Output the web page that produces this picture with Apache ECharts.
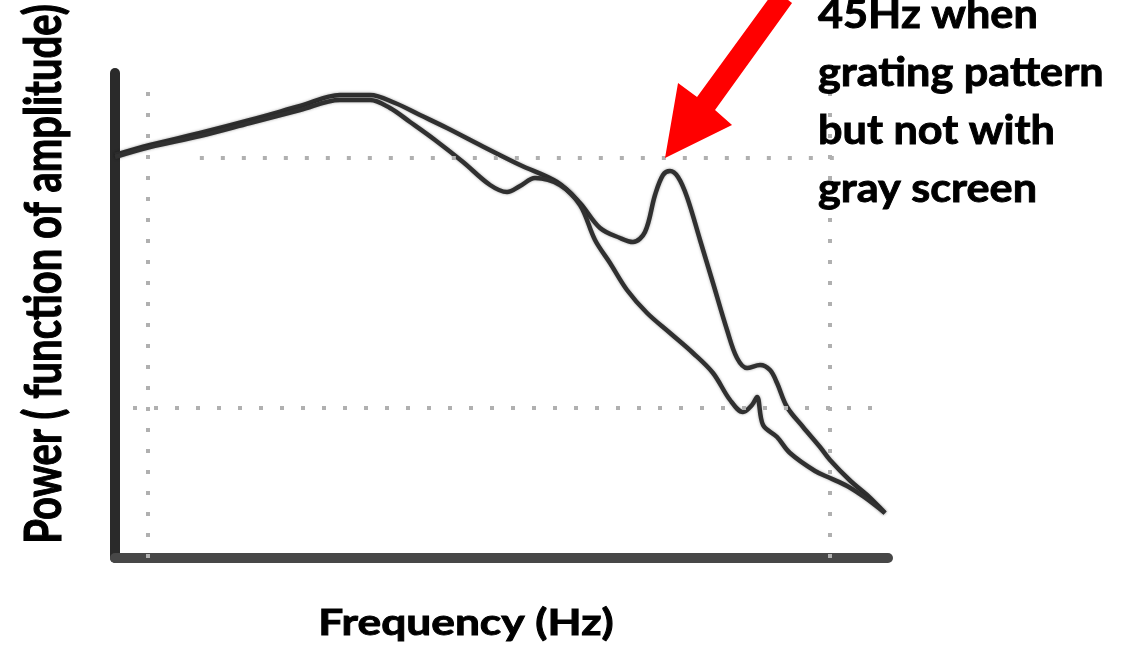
<!DOCTYPE html>
<html>
<head>
<meta charset="utf-8">
<script src="https://cdn.jsdelivr.net/npm/echarts@6/dist/echarts.min.js"></script>
<style>
html,body{margin:0;padding:0;background:#fff;}
#c{width:1140px;height:649px;}
</style>
</head>
<body>
<div id="c"></div>
<script>
// Curve with the 45 Hz peak (grating pattern)
const gratingFreq = [-4.84, 0.29, 7.62, 14.96, 22.29, 28.15, 32.55, 36.22, 39.88, 43.84, 48.68, 54.55, 59.97, 63.34, 66.28, 69.21, 71.11, 72.87, 74.34, 75.51, 76.54, 77.71, 79.03, 80.94, 82.84, 84.9, 86.36, 87.83, 89.74, 91.2, 92.23, 93.7, 96.04, 98.53, 100.0, 102.93, 105.43, 108.06];
const gratingPower = [20.12, 20.52, 21.0, 21.52, 22.08, 22.52, 22.52, 22.2, 21.72, 21.2, 20.52, 19.72, 19.04, 18.2, 17.2, 16.8, 16.64, 17.04, 18.52, 19.32, 19.48, 19.24, 18.44, 16.72, 15.0, 13.12, 12.0, 11.6, 11.72, 11.52, 11.0, 10.04, 9.24, 8.44, 7.92, 7.1, 6.52, 5.8];
// Curve without the peak (gray screen)
const grayFreq = [-4.84, 0.29, 7.62, 14.96, 22.29, 28.15, 32.55, 35.48, 38.42, 42.08, 46.19, 50.15, 52.64, 54.55, 56.74, 60.41, 63.34, 65.54, 67.74, 70.23, 73.17, 76.54, 79.91, 82.84, 85.34, 87.24, 88.56, 89.3, 90.18, 92.23, 94.13, 97.8, 100.0, 102.5, 105.0, 108.06];
const grayPower = [20.04, 20.44, 20.88, 21.4, 21.92, 22.32, 22.32, 22.0, 21.44, 20.72, 19.84, 18.92, 18.64, 18.88, 19.2, 18.92, 18.12, 16.72, 15.8, 14.72, 13.8, 13.0, 12.2, 11.4, 10.32, 9.84, 10.12, 10.44, 9.32, 8.84, 8.2, 7.48, 7.2, 6.88, 6.44, 5.8];
// Dotted reference lines: [level, from, to]
const gridPowerLines = [[20, 7.6, 101.5], [10, -2.2, 107.3]];
const gridFreqLines = [[0, 4, 22.9], [100, 4, 22.9]];
// Texts
const yTitle = 'Power ( function of amplitude)';
const xTitle = 'Frequency (Hz)';
const noteLines = ['45Hz when', 'grating pattern', 'but not with', 'gray screen'];

const zip = (xs, ys) => xs.map((x, i) => [x, ys[i]]);
const chart = echarts.init(document.getElementById('c'), null, {renderer: 'canvas'});

const curveStyle = {color: '#303030', width: 4.5, shadowColor: 'rgba(0,0,0,0.35)', shadowBlur: 3};
const font = 'Lato, "Open Sans", sans-serif';

chart.setOption({
  animation: false,
  backgroundColor: '#fff',
  grid: {left: 115, right: 252, top: 73, bottom: 91},
  xAxis: {
    type: 'value', min: -4.84, max: 108.5,
    axisLine: {show: true, onZero: false, lineStyle: {color: '#474747', width: 10}},
    axisTick: {show: false}, axisLabel: {show: false}, splitLine: {show: false}
  },
  yAxis: {
    type: 'value', min: 4, max: 23.4,
    axisLine: {show: true, onZero: false, lineStyle: {color: '#2a2a2a', width: 10}},
    axisTick: {show: false}, axisLabel: {show: false}, splitLine: {show: false}
  },
  series: [
    {
      type: 'line', data: [], z: 1, silent: true,
      markLine: {
        silent: true, symbol: 'none', label: {show: false},
        lineStyle: {type: [4, 17], color: '#b0b0b0', width: 4},
        data: gridPowerLines.map(g => [{coord: [g[1], g[0]]}, {coord: [g[2], g[0]]}])
          .concat(gridFreqLines.map(g => [{coord: [g[0], g[1]]}, {coord: [g[0], g[2]]}]))
      }
    },
    {
      name: 'grating', type: 'line', z: 3, smooth: 0.35, showSymbol: false,
      lineStyle: curveStyle, data: zip(gratingFreq, gratingPower)
    },
    {
      name: 'gray', type: 'line', z: 3, smooth: 0.35, showSymbol: false,
      lineStyle: curveStyle, data: zip(grayFreq, grayPower)
    }
  ]
});

// locate the annotated peak (max of grating curve beyond 70)
let pk = 0;
gratingFreq.forEach((f, i) => { if (f > 70 && (pk === 0 || gratingPower[i] > gratingPower[pk])) pk = i; });
const p = chart.convertToPixel({gridIndex: 0}, [gratingFreq[pk], gratingPower[pk]]);
const tx = p[0] - 5, ty = p[1] - 13;
const arrowShape = [[0, 0], [13, -75], [32, -61], [110, -168], [127, -155], [50, -48], [67, -33]];

const textStyle = (t, size) => ({text: t, font: 'bold ' + size + 'px ' + font, fill: '#000', stroke: '#000', lineWidth: 0.9});
const noteY = [15, 73, 131, 189];
chart.setOption({
  graphic: [
    {
      type: 'polygon', z: 10,
      shape: {points: arrowShape.map(q => [tx + q[0], ty + q[1]])},
      style: {fill: '#ff0000'}
    },
    {
      type: 'text', z: 10, x: 45, y: 274, rotation: Math.PI / 2, scaleY: 1.27,
      style: Object.assign(textStyle(yTitle, 40), {align: 'center', verticalAlign: 'middle'})
    },
    {
      type: 'text', z: 10, x: 466, y: 623, scaleX: 1.23,
      style: Object.assign(textStyle(xTitle, 36), {align: 'center', verticalAlign: 'middle'})
    }
  ].concat(noteLines.map((t, i) => ({
    type: 'text', z: 10, x: 818, y: noteY[i], scaleX: 1.08,
    style: Object.assign(textStyle(t, 40), {align: 'left', verticalAlign: 'middle'})
  })))
});
</script>
</body>
</html>
